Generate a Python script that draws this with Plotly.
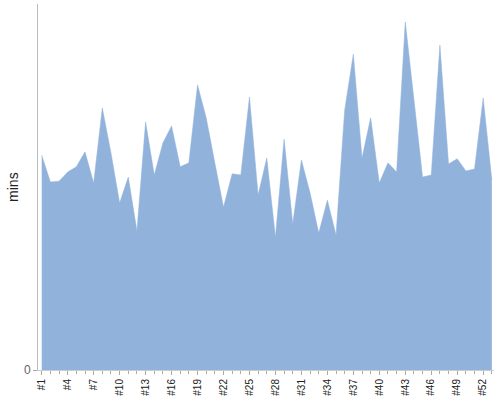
import plotly.graph_objects as go

weeks = list(range(1, 54))
mins = [58.7, 51.4, 51.6, 54.1, 55.5, 59.6, 51.1, 71.6, 59.3, 45.6,
        52.7, 38.0, 67.8, 53.3, 62.0, 66.7, 55.5, 56.6, 77.9, 68.9,
        56.6, 44.5, 53.6, 53.3, 74.6, 47.8, 57.9, 36.3, 63.1, 39.9,
        57.4, 48.4, 37.4, 46.4, 36.9, 71.0, 86.3, 57.9, 68.9, 51.1,
        56.6, 54.1, 95.1, 74.0, 52.7, 53.3, 88.8, 56.3, 57.7, 54.4,
        54.9, 74.3, 51.9]
tick_vals = list(range(1, 54, 3))
tick_text = ["#%d" % v for v in tick_vals]

fig = go.Figure()
fig.add_trace(go.Scatter(
    x=weeks, y=mins, mode="lines", fill="tozeroy",
    line=dict(width=0.5, color="#91B3DB"), fillcolor="#91B3DB",
    hoverinfo="x+y", showlegend=False))

fig.update_layout(
    width=500, height=400,
    margin=dict(l=38, r=6, t=4, b=30),
    paper_bgcolor="white", plot_bgcolor="white",
    font=dict(family="Liberation Sans, Arial, sans-serif", color="#333"),
    xaxis=dict(
        automargin=False,
        range=[0.57, 53.25], tickmode="array", tickvals=tick_vals,
        ticktext=tick_text, tickangle=-90, ticks="outside", ticklen=4,
        tickcolor="#aaa", tickfont=dict(size=10, color="#222"),
        showgrid=False, zeroline=False, showline=True, linecolor="#ccc",
        linewidth=1,
        minor=dict(tickmode="linear", tick0=1, dtick=1, ticks="outside",
                   ticklen=3, tickcolor="#aaa", showgrid=False)),
    yaxis=dict(
        automargin=False,
        range=[0, 100], tickmode="array", tickvals=[0], ticktext=["0"],
        ticks="outside", ticklen=4, tickcolor="#aaa",
        tickfont=dict(size=12, color="#666"),
        showgrid=False, zeroline=False, showline=True, linecolor="#bbb",
        linewidth=1),
    annotations=[dict(text="mins", xref="paper", yref="paper",
                      x=-0.055, y=0.5, xanchor="center", yanchor="middle",
                      textangle=-90, showarrow=False,
                      font=dict(size=14, color="#222"))],
)

fig.write_html("out.html", config={"displayModeBar": False},
               post_script="document.body.style.margin='0';document.body.style.overflow='hidden';")
